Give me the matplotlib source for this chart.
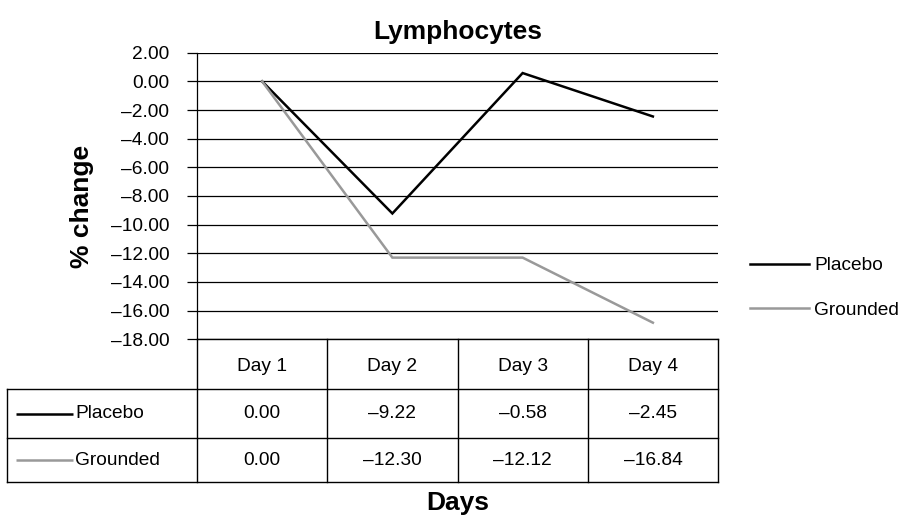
import matplotlib
matplotlib.use("Agg")
import matplotlib.pyplot as plt
from matplotlib.ticker import FuncFormatter

plt.rcParams['font.family'] = ['Liberation Sans', 'DejaVu Sans']

days = ["Day 1", "Day 2", "Day 3", "Day 4"]
series_names = ["Placebo", "Grounded"]
# values as drawn by the lines in the picture
placebo_plot = [0.00, -9.22, 0.58, -2.45]
grounded_plot = [0.00, -12.30, -12.30, -16.84]
# values printed in the data table
placebo_table = ["0.00", "\u20139.22", "\u20130.58", "\u20132.45"]
grounded_table = ["0.00", "\u201312.30", "\u201312.12", "\u201316.84"]
colors = ["#000000", "#999999"]
yticks = list(range(2, -19, -2))

W, H = 911, 516
FS = 13.8
FSB = 19
fig = plt.figure(figsize=(W / 100, H / 100), dpi=100)

def fr(x0, y0, x1, y1):
    return [x0 / W, 1 - y1 / H, (x1 - x0) / W, (y1 - y0) / H]

px_left, px_right, px_top, px_bot = 197, 718, 52.7, 339.3
ax = fig.add_axes(fr(px_left, px_top, px_right, px_bot))
x = list(range(len(days)))
for vals, c, n in zip([placebo_plot, grounded_plot], colors, series_names):
    ax.plot(x, vals, color=c, lw=1.8, label=n, solid_joinstyle='miter', zorder=3)
ax.set_xlim(-0.5, 3.5)
ax.set_ylim(-18, 2)
ax.set_yticks(yticks)
ax.yaxis.set_major_formatter(FuncFormatter(lambda v, p: ("\u2013%.2f" % abs(v)) if v < 0 else "%.2f" % v))
ax.tick_params(axis='y', labelsize=FS, length=7.5, width=0.9, color='black', pad=12.5)
ax.set_xticks([])
ax.grid(axis='y', color='black', lw=0.9)
for s in ['top', 'right', 'bottom']:
    ax.spines[s].set_visible(False)
ax.spines['left'].set_linewidth(0.9)
ax.set_title("Lymphocytes", fontsize=FSB, fontweight='bold', pad=10)
fig.text(81.5 / W, 1 - 206 / H, "% change", rotation=90, ha='center', va='center',
         fontsize=FSB, fontweight='bold')

# legend at right
leg = ax.legend(loc='upper left',
                bbox_to_anchor=((750 - px_left) / (px_right - px_left), 1 - (257 - px_top) / (px_bot - px_top)),
                frameon=False, fontsize=FS, handlelength=3.1, handletextpad=0.25, labelspacing=1.41,
                borderaxespad=0, borderpad=0)

# data table
t_left, t_bot = 7, 482.3
tax = fig.add_axes(fr(t_left, px_bot, px_right, t_bot))
unit = (px_right - px_left) / 4.0
x0 = -0.5 - (px_left - t_left) / unit
tax.set_xlim(x0, 3.5)
tax.set_ylim(t_bot - px_bot, 0)
tax.axis('off')
rows = [0, 50, 99, 143]
kw = dict(color='black', lw=1.0, solid_capstyle='projecting', clip_on=False)
tax.plot([-0.5, 3.5], [rows[0], rows[0]], **kw)
for r in rows[1:]:
    tax.plot([x0, 3.5], [r, r], **kw)
for xv in [-0.5, 0.5, 1.5, 2.5, 3.5]:
    tax.plot([xv, xv], [rows[0], rows[3]], **kw)
tax.plot([x0, x0], [rows[1], rows[3]], **kw)
for i, d in enumerate(days):
    tax.text(i, (rows[0] + rows[1]) / 2 + 2, d, ha='center', va='center', fontsize=FS)
for ri, (vals, c, n) in enumerate(zip([placebo_table, grounded_table], colors, series_names)):
    yc = (rows[ri + 1] + rows[ri + 2]) / 2
    for i, v in enumerate(vals):
        tax.text(i, yc, v, ha='center', va='center', fontsize=FS)
    lx0 = x0 + 9 / unit
    lx1 = x0 + 66 / unit
    tax.plot([lx0, lx1], [yc, yc], color=c, lw=1.8, solid_capstyle='butt')
    tax.text(lx1 + 2 / unit, yc, n, ha='left', va='center', fontsize=FS)

fig.text((px_left + px_right) / 2 / W, 1 - 503 / H, "Days", ha='center', va='center',
         fontsize=FSB, fontweight='bold')

fig.savefig("out.png", dpi=100)
